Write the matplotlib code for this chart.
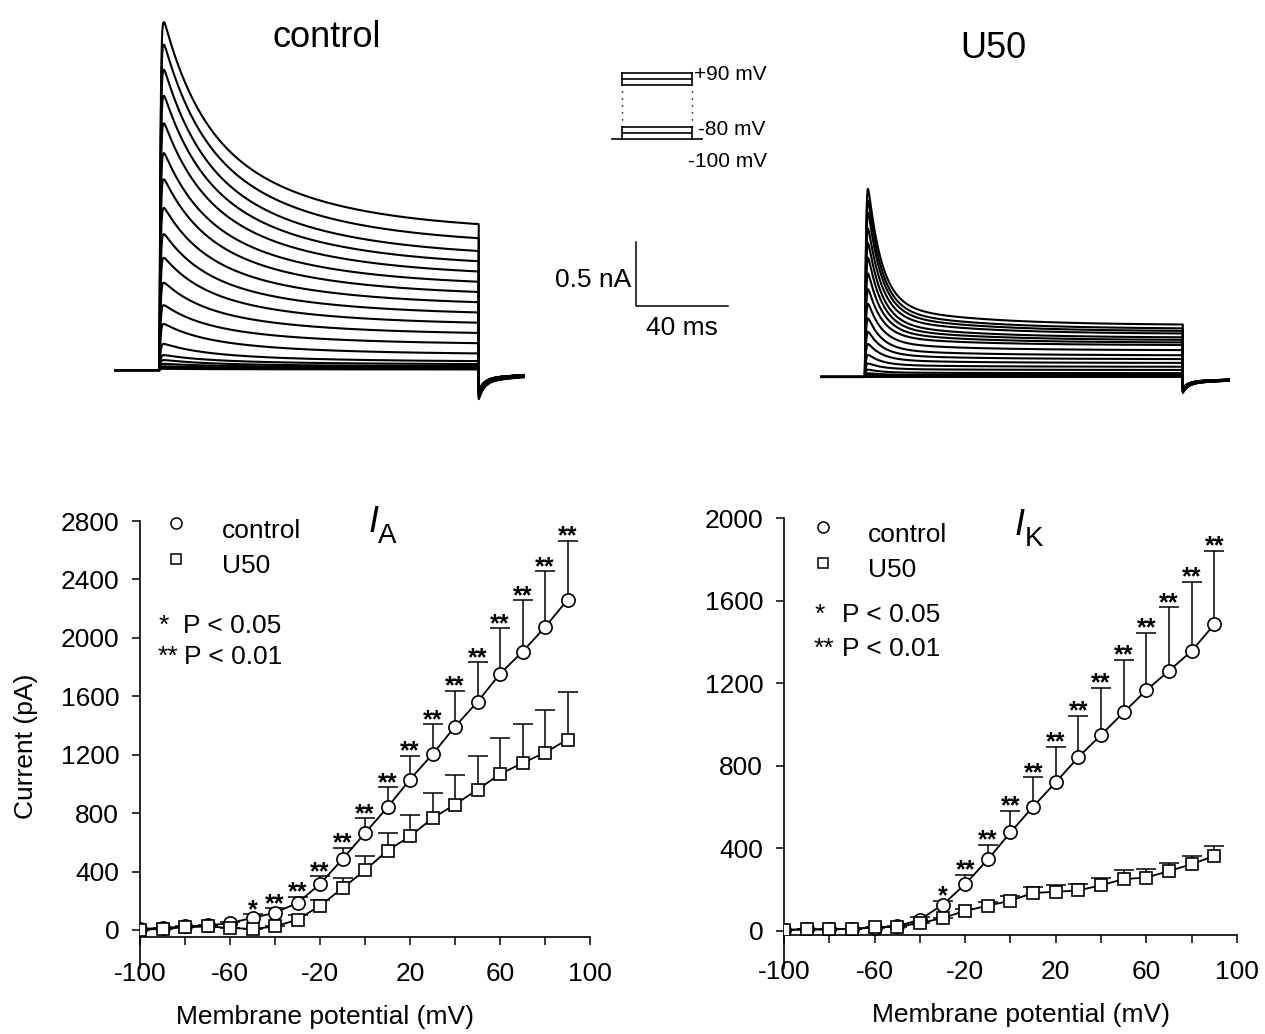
import numpy as np
import matplotlib
matplotlib.use('Agg')
import matplotlib.pyplot as plt

W, H = 1265, 1034
plt.rcParams['font.family'] = ['Liberation Sans', 'DejaVu Sans']

# ---- I-V data (pA), test potentials -100 .. +90 mV ----
volts = [-100, -90, -80, -70, -60, -50, -40, -30, -20, -10,
         0, 10, 20, 30, 40, 50, 60, 70, 80, 90]

ia_ctrl = [7, 14, 24, 31, 47, 83, 118, 185, 315, 485,
           663, 840, 1030, 1203, 1392, 1562, 1754, 1905, 2073, 2260]
ia_ctrl_sem = [0, 0, 0, 0, 8, 26, 31, 42, 54, 78,
               102, 138, 161, 205, 244, 272, 312, 351, 383, 405]
ia_u50 = [2, 7, 19, 24, 14, 7, 24, 71, 166, 286,
          409, 544, 641, 765, 859, 961, 1067, 1143, 1214, 1304]
ia_u50_sem = [0, 0, 0, 0, 0, 0, 0, 29, 42, 69,
              95, 119, 147, 172, 201, 230, 249, 267, 291, 324]
ia_stars = ['', '', '', '', '', '*', '**', '**', '**', '**',
            '**', '**', '**', '**', '**', '**', '**', '**', '**', '**']

ik_ctrl = [5, 7, 7, 10, 15, 22, 55, 126, 226, 346,
           477, 602, 720, 842, 949, 1059, 1166, 1260, 1356, 1485]
ik_ctrl_sem = [0, 0, 0, 0, 0, 0, 12, 19, 45, 72,
               105, 141, 172, 199, 229, 253, 278, 308, 334, 356]
ik_u50 = [5, 7, 7, 10, 17, 20, 37, 62, 97, 122,
          146, 184, 189, 196, 221, 251, 258, 290, 323, 363]
ik_u50_sem = [0, 0, 0, 0, 0, 0, 0, 0, 10, 17,
              21, 30, 35, 33, 35, 42, 43, 40, 42, 50]
ik_stars = ['', '', '', '', '', '', '', '*', '**', '**',
            '**', '**', '**', '**', '**', '**', '**', '**', '**', '**']

# ---- current traces (nA): peak and end-of-pulse amplitude per sweep ----
ctrl_peak = [0.01, 0.02, 0.03, 0.05, 0.08, 0.12, 0.21, 0.37, 0.52, 0.70,
             0.90, 1.09, 1.30, 1.53, 1.74, 1.98, 2.20, 2.41, 2.61, 2.79]
ctrl_end = [0.005, 0.008, 0.016, 0.023, 0.031, 0.047, 0.07, 0.13, 0.21, 0.29,
            0.37, 0.45, 0.53, 0.61, 0.69, 0.77, 0.85, 0.93, 1.03, 1.14]
u50_peak = [0.0, 0.005, 0.01, 0.02, 0.03, 0.06, 0.11, 0.18, 0.27, 0.37,
            0.48, 0.60, 0.72, 0.85, 0.98, 1.10, 1.22, 1.35, 1.45, 1.545]
u50_end = [0.0, 0.003, 0.006, 0.01, 0.015, 0.03, 0.055, 0.08, 0.11, 0.14,
           0.17, 0.21, 0.25, 0.27, 0.29, 0.31, 0.34, 0.36, 0.38, 0.41]
ctrl_tail = -0.23
u50_tail = -0.125
T_ON, T_OFF = 20, 160          # ms
SCALE_NA, SCALE_MS = 0.5, 40

# voltage protocol (mV)
HOLD = -100
proto_low = [-90, -80]
proto_high = [70, 80, 90]
PROTO_BREAK = 80


def frac_box(x0, y0, x1, y1):
    # pixel box (top-left origin) -> figure fraction
    return [x0 / W, 1 - y1 / H, (x1 - x0) / W, (y1 - y0) / H]


def sweep(t, peak, end, tail, tau_fast, tau_slow, frac_fast):
    dt = t - T_ON
    shape = lambda d: frac_fast * np.exp(-d / tau_fast) + (1 - frac_fast) * np.exp(-d / tau_slow)
    s_end = shape(T_OFF - T_ON - 1.2)
    ss = (end - peak * s_end) / (1 - s_end)
    d = np.clip(dt - 1.2, 0, None)
    act = 1 - np.exp(-np.clip(dt, 0, None) / 0.4)
    cur = act * (ss + (peak - ss) * shape(d))
    dt2 = t - T_OFF
    off = tail * (0.6 * np.exp(-dt2 / 2.5) + 0.4 * np.exp(-dt2 / 40))
    return np.where(t < T_ON, 0.0, np.where(t <= T_OFF, cur, off))


fig = plt.figure(figsize=(W / 100, H / 100), dpi=100)

# ---- top traces ----
ax_c = fig.add_axes(frac_box(114, 5, 525, 405))
t = np.linspace(0, 180.3, 3607)
for pk, en in zip(ctrl_peak, ctrl_end):
    tl = ctrl_tail * (0.7 + 0.3 * en / max(ctrl_end))
    ax_c.plot(t, sweep(t, pk, en, tl, 15, 50, 0.45), color='k', lw=1.5)
ax_c.set_xlim(0, 180.3)
ax_c.set_ylim(-0.273, 2.852)
ax_c.axis('off')

# scale bar, in the control panel's data units
xb, yb = 229.2, 0.5
ax_c.plot([xb, xb, xb + SCALE_MS], [yb + SCALE_NA, yb, yb], color='k', lw=1.1,
          clip_on=False)
ax_c.text(xb - 2.5, yb + 0.2, f'{SCALE_NA} nA', ha='right', va='center', fontsize=19)
ax_c.text(xb + SCALE_MS / 2, yb - 0.17, f'{SCALE_MS} ms', ha='center', va='center',
          fontsize=19)

ax_u = fig.add_axes(frac_box(819.5, 5, 1230, 405))
t2 = np.linspace(0, 180.8, 3617)
for pk, en in zip(u50_peak, u50_end):
    tl = u50_tail * (0.7 + 0.3 * en / max(u50_end))
    ax_u.plot(t2, sweep(t2, pk, en, tl, 6, 40, 0.85), color='k', lw=1.5)
ax_u.set_xlim(0, 180.8)
ax_u.set_ylim(-0.219, 2.906)
ax_u.axis('off')

fig.text(327 / W, 1 - 47 / H, 'control', ha='center', va='baseline', fontsize=26)
fig.text(993 / W, 1 - 58 / H, 'U50', ha='center', va='baseline', fontsize=26)

# ---- voltage protocol inset ----
ax_p = fig.add_axes(frac_box(601, 60, 711, 150))
kw = dict(color='k', lw=1.2)
ax_p.plot([0, 180], [HOLD, HOLD], **kw)
for v in proto_low:
    ax_p.plot([T_ON, T_OFF], [v, v], **kw)
for v in proto_high:
    ax_p.plot([T_ON, T_OFF], [v - PROTO_BREAK, v - PROTO_BREAK], **kw)
for tt in (T_ON, T_OFF):
    ax_p.plot([tt, tt], [HOLD, proto_low[-1]], **kw)
    ax_p.plot([tt, tt], [proto_low[-1], proto_high[0] - PROTO_BREAK], color='k',
              lw=1.0, ls=(0, (1, 4)))
    ax_p.plot([tt, tt], [proto_high[0] - PROTO_BREAK, proto_high[-1] - PROTO_BREAK], **kw)
ax_p.text(164.6, 7.2, f'+{proto_high[-1]} mV', ha='left', va='center', fontsize=15)
ax_p.text(173.2, -83.7, f'{proto_low[-1]} mV', ha='left', va='center', fontsize=15)
ax_p.text(153.2, -137, f'{HOLD} mV', ha='left', va='center', fontsize=15, clip_on=False)
ax_p.set_xlim(-21.4, 198.6)
ax_p.set_ylim(-117.8, 32.2)
ax_p.axis('off')

# ---- I-V panels ----
panels = [
    dict(box=(140, 521, 590, 937), ymax=2800, ylow=-48, spine_low=-260,
         ctrl=ia_ctrl, ctrl_sem=ia_ctrl_sem, u50=ia_u50, u50_sem=ia_u50_sem,
         stars=ia_stars, sub='A', ylabel='Current (pA)',
         i_pos=(0.507, 0.974), sub_pos=(0.529, 0.947),
         leg=[(0.080, 0.994), (0.080, 0.909), (0.183, 0.976), (0.183, 0.892),
              (0.042, 0.747), (0.096, 0.747), (0.039, 0.673), (0.098, 0.673)],
         xlab_x=0.41),
    dict(box=(784, 518, 1237, 935), ymax=2000, ylow=-20, spine_low=-179,
         ctrl=ik_ctrl, ctrl_sem=ik_ctrl_sem, u50=ik_u50, u50_sem=ik_u50_sem,
         stars=ik_stars, sub='K', ylabel=None,
         i_pos=(0.51, 0.959), sub_pos=(0.532, 0.933),
         leg=[(0.086, 0.978), (0.086, 0.892), (0.185, 0.959), (0.185, 0.875),
              (0.068, 0.767), (0.128, 0.767), (0.066, 0.686), (0.128, 0.686)],
         xlab_x=0.523),
]

for p in panels:
    ax = fig.add_axes(frac_box(*p['box']))
    for mean, sem, mk, ms in [(p['ctrl'], p['ctrl_sem'], 'o', 9.5),
                              (p['u50'], p['u50_sem'], 's', 8.0)]:
        eb = ax.errorbar(volts, mean, yerr=[np.zeros(len(sem)), sem], fmt='none',
                         ecolor='k', elinewidth=1.1, capsize=7.5, capthick=1.1,
                         zorder=2)
        eb[1][0].set_visible(False)  # no lower caps
        ax.plot(volts, mean, '-', color='k', lw=1.3, marker=mk, ms=ms,
                mfc='white', mec='k', mew=1.2, zorder=3)
    for v, m, s, st in zip(volts, p['ctrl'], p['ctrl_sem'], p['stars']):
        if st:
            ax.annotate(st, (v, m + s), xytext=(0, -2.0), textcoords='offset points',
                        ha='center', va='baseline', fontsize=18, fontweight='bold')

    ax.set_xlim(-100, 100)
    ax.set_ylim(p['ylow'], p['ymax'])
    ax.set_xticks(range(-100, 101, 20))
    ax.set_xticklabels([str(v) if (v + 100) % 40 == 0 else '' for v in range(-100, 101, 20)])
    ax.set_yticks(range(0, p['ymax'] + 1, 400))
    ax.tick_params(axis='both', direction='out', length=6, width=1.1, labelsize=19)
    ax.tick_params(axis='x', pad=12)
    ax.tick_params(axis='y', pad=9)
    for side in ('top', 'right'):
        ax.spines[side].set_visible(False)
    for side in ('left', 'bottom'):
        ax.spines[side].set_linewidth(1.2)
    ax.spines['left'].set_bounds(p['spine_low'], p['ymax'])
    ax.spines['bottom'].set_bounds(-100, 100)

    ax.set_xlabel('Membrane potential (mV)', fontsize=19)
    ax.xaxis.set_label_coords(p['xlab_x'], -0.163)
    if p['ylabel']:
        ax.set_ylabel(p['ylabel'], fontsize=19)
        ax.yaxis.set_label_coords(-0.226, 0.459)

    tr = ax.transAxes
    ax.text(*p['i_pos'], 'I', style='italic', fontsize=26, transform=tr,
            ha='left', va='baseline')
    ax.text(*p['sub_pos'], p['sub'], fontsize=20, transform=tr, ha='left', va='baseline')
    lg = p['leg']
    ax.plot(*lg[0], 'o', ms=8, mfc='white', mec='k', mew=1.1, transform=tr, clip_on=False)
    ax.plot(*lg[1], 's', ms=7, mfc='white', mec='k', mew=1.1, transform=tr, clip_on=False)
    ax.text(*lg[2], 'control', fontsize=19, transform=tr, ha='left', va='center')
    ax.text(*lg[3], 'U50', fontsize=19, transform=tr, ha='left', va='center')
    ax.text(*lg[4], '*', fontsize=19, transform=tr, ha='left', va='center')
    ax.text(*lg[5], 'P < 0.05', fontsize=19, transform=tr, ha='left', va='center')
    ax.text(*lg[6], '**', fontsize=19, transform=tr, ha='left', va='center')
    ax.text(*lg[7], 'P < 0.01', fontsize=19, transform=tr, ha='left', va='center')

fig.savefig('out.png', dpi=100)
